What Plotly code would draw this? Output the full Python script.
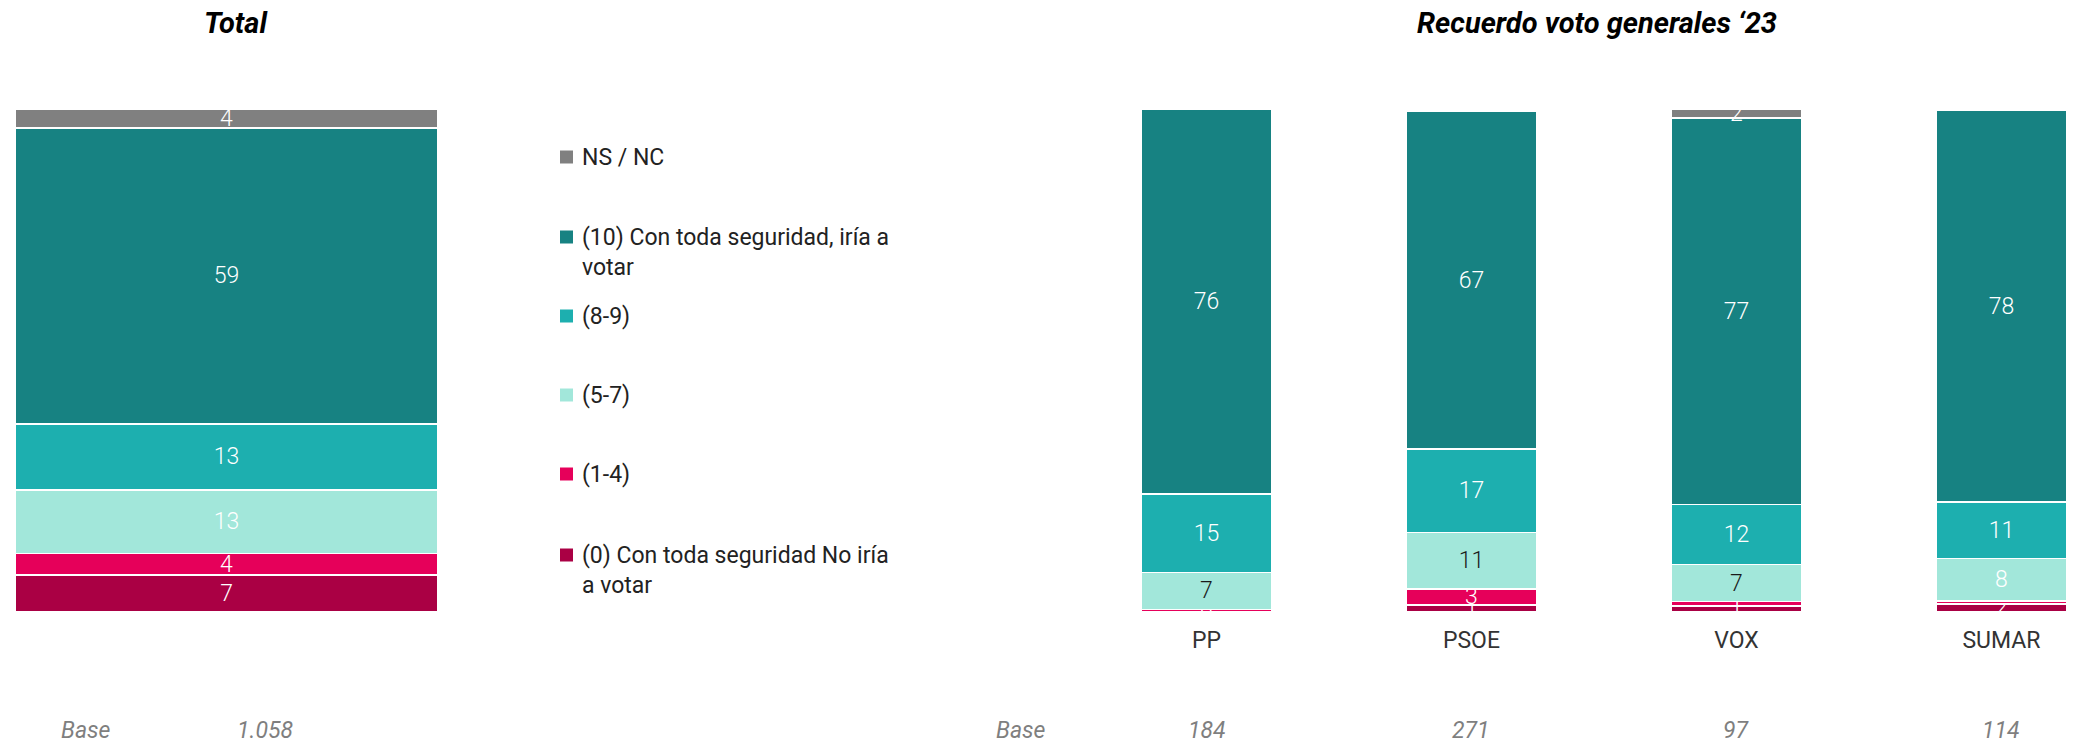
import plotly.graph_objects as go

# ---------------- data ----------------
total_cat = ["Total"]
party_cats = ["PP", "PSOE", "VOX", "SUMAR"]

series_names = [
    "(0) Con toda seguridad No iría a votar",
    "(1-4)",
    "(5-7)",
    "(8-9)",
    "(10) Con toda seguridad, iría a votar",
    "NS / NC",
]
legend_labels = [
    "(0) Con toda seguridad No iría<br>a votar",
    "(1-4)",
    "(5-7)",
    "(8-9)",
    "(10) Con toda seguridad, iría a<br>votar",
    "NS / NC",
]
colors = ["#AA0044", "#E6005A", "#A2E7DA", "#1DAFAF", "#178282", "#808080"]

# values: [Total, PP, PSOE, VOX, SUMAR]
val_0 = [7.4, 0.0, 1.4, 1.2, 1.6]
val_1_4 = [4.2, 0.5, 3.2, 0.9, 0.6]
val_5_7 = [12.7, 7.4, 11.2, 7.3, 8.4]
val_8_9 = [13.1, 15.6, 16.6, 12.0, 11.3]
val_10 = [58.8, 76.5, 67.1, 76.8, 77.8]
val_nsnc = [3.8, 0.0, 0.0, 1.8, 0.0]
values = [val_0, val_1_4, val_5_7, val_8_9, val_10, val_nsnc]

lab_0 = ["7", "", "1", "", "2"]
lab_1_4 = ["4", "0", "3", "1", ""]
lab_5_7 = ["13", "7", "11", "7", "8"]
lab_8_9 = ["13", "15", "17", "12", "11"]
lab_10 = ["59", "76", "67", "77", "78"]
lab_nsnc = ["4", "", "", "2", ""]
labels = [lab_0, lab_1_4, lab_5_7, lab_8_9, lab_10, lab_nsnc]

W = "#FFFFFF"
K = "#1a1a1a"
label_colors = [
    [W, W, W, W, W],
    [W, W, W, W, W],
    [W, K, K, K, W],
    [W, W, W, W, W],
    [W, W, W, W, W],
    [W, W, W, W, W],
]

base_total = ["1.058"]
base_parties = ["184", "271", "97", "114"]

# ---------------- figure ----------------
FW, FH = 2077, 745
FONT = "Roboto"

def px(x):
    return x / FW

def py(y):
    return 1 - y / FH

fig = go.Figure()
for i, name in enumerate(series_names):
    fig.add_trace(go.Bar(
        x=total_cat, y=values[i][:1], text=labels[i][:1],
        xaxis="x", yaxis="y", name=name, showlegend=False,
        marker=dict(color=colors[i], line=dict(color="white", width=1.5)),
        width=1.0, textposition="inside", insidetextanchor="middle",
        textangle=0, texttemplate="%{text}", cliponaxis=False,
        textfont=dict(color=label_colors[i][:1], size=23, family=FONT, weight=300),
        hoverinfo="skip",
    ))
    fig.add_trace(go.Bar(
        x=party_cats, y=values[i][1:], text=labels[i][1:],
        xaxis="x2", yaxis="y2", name=name, showlegend=False,
        marker=dict(color=colors[i], line=dict(color="white", width=1.5)),
        width=0.494, textposition="inside", insidetextanchor="middle",
        textangle=0, texttemplate="%{text}", cliponaxis=False,
        textfont=dict(color=label_colors[i][1:], size=23, family=FONT, weight=300),
        hoverinfo="skip",
    ))

ydom = [1 - 612 / FH, 1 - 109 / FH]
fig.update_layout(
    width=FW, height=FH,
    margin=dict(l=0, r=0, t=0, b=0),
    paper_bgcolor="white", plot_bgcolor="white",
    barmode="stack",
    uniformtext=dict(minsize=23, mode="show"),
    font=dict(family=FONT, color="#222222"),
    xaxis=dict(domain=[px(15), px(438)], range=[-0.5, 0.5], visible=False),
    yaxis=dict(domain=ydom, range=[0, 100], visible=False),
    xaxis2=dict(domain=[px(1074), 1.0], range=[-0.5, 3.285],
                showgrid=False, showline=False, zeroline=False, ticks="",
                tickfont=dict(size=23, color="#333333", family=FONT),
                ticklabelstandoff=12),
    yaxis2=dict(domain=ydom, range=[0, 100], visible=False, anchor="x2"),
)

annotations = []
shapes = []
# titles
annotations.append(dict(text="<b><i>Total</i></b>", x=px(236), y=py(23), xref="paper", yref="paper",
                        xanchor="center", yanchor="middle", showarrow=False,
                        font=dict(size=29, color="#000000", family=FONT)))
annotations.append(dict(text="<b><i>Recuerdo voto generales ‘23</i></b>", x=px(1597), y=py(23),
                        xref="paper", yref="paper", xanchor="center", yanchor="middle",
                        showarrow=False, font=dict(size=29, color="#000000", family=FONT)))

# legend (top item first)
leg_y = [555, 474, 395, 316, 237, 157]
for i in range(len(series_names)):
    yc = leg_y[i]
    shapes.append(dict(type="rect", xref="paper", yref="paper",
                       x0=px(560), x1=px(573), y0=py(yc + 6.5), y1=py(yc - 6.5),
                       fillcolor=colors[i], line=dict(width=0)))
    annotations.append(dict(text=legend_labels[i], x=px(580), y=py(yc - 15),
                            xref="paper", yref="paper", xanchor="left", yanchor="top",
                            align="left", showarrow=False,
                            font=dict(size=23, color="#222222", family=FONT)))

# base row
base_font = dict(size=23, color="#7f7f7f", family=FONT, style="italic")
def base_ann(text, x, xref="paper"):
    return dict(text=text, x=x, y=py(730), xref=xref, yref="paper",
                xanchor="center", yanchor="middle", showarrow=False, font=base_font)

annotations.append(base_ann("Base", px(86)))
annotations.append(base_ann(base_total[0], px(265)))
annotations.append(base_ann("Base", px(1021)))
for cat, b in zip(party_cats, base_parties):
    annotations.append(base_ann(b, cat, "x2"))

fig.update_layout(annotations=annotations, shapes=shapes)
fig.write_html("out.html", config={"displayModeBar": False},
               post_script="document.body.style.margin='0';")
